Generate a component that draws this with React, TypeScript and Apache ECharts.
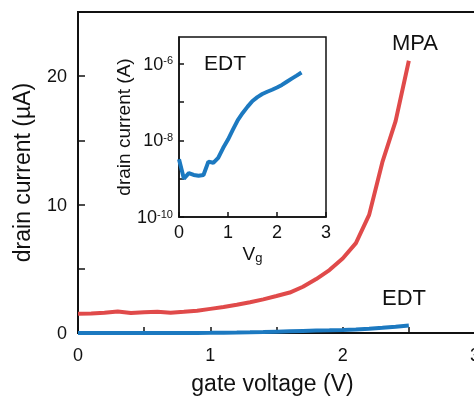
import React, { useEffect, useRef } from "react";
import * as echarts from "echarts";

const gateVoltage = [0, 0.1, 0.2, 0.3, 0.4, 0.5, 0.6, 0.7, 0.8, 0.9, 1.0, 1.1, 1.2, 1.3, 1.4, 1.5, 1.6, 1.7, 1.8, 1.9, 2.0, 2.1, 2.2, 2.3, 2.4, 2.5];
// MPA drain current in µA
const mpaCurrent = [1.5, 1.52, 1.58, 1.68, 1.55, 1.62, 1.66, 1.58, 1.65, 1.74, 1.88, 2.02, 2.2, 2.4, 2.62, 2.88, 3.15, 3.6, 4.2, 4.9, 5.8, 7.0, 9.2, 13.3, 16.5, 21.2];
// EDT drain current in A
const edtCurrent = [3.2e-9, 1.0e-9, 1.4e-9, 1.25e-9, 1.2e-9, 1.25e-9, 2.8e-9, 2.6e-9, 3.5e-9, 6.3e-9, 1.05e-8, 1.9e-8, 3.4e-8, 5.2e-8, 7.6e-8, 1.07e-7, 1.35e-7, 1.62e-7, 1.86e-7, 2.1e-7, 2.4e-7, 2.8e-7, 3.4e-7, 4.1e-7, 4.9e-7, 5.9e-7];

const mainXTicks = [0, 1, 2, 3];
const mainYTicks = [0, 10, 20];
const insetYLabels = [-10, -8, -6];

const FONT = "'Liberation Sans', Arial, sans-serif";
const RED = "#e04a4a";
const BLUE = "#1c79c0";
const INK = "#111";

export default function App() {
  const ref = useRef<HTMLDivElement>(null);
  useEffect(() => {
    if (!ref.current) return;
    const chart = echarts.init(ref.current, null, { renderer: "svg" });
    const mpaData = gateVoltage.map((v, i) => [v, mpaCurrent[i]]);
    const edtMainData = gateVoltage.map((v, i) => [v, edtCurrent[i] * 1e6]);
    const edtInsetData = gateVoltage.map((v, i) => [v, edtCurrent[i]]);

    chart.setOption({
      animation: false,
      textStyle: { fontFamily: FONT, color: INK },
      grid: [
        { left: 78, top: 12, width: 397, height: 321, show: true, borderColor: INK, borderWidth: 2, backgroundColor: "transparent", containLabel: false, outerBoundsMode: "none" },
        { left: 179, top: 37, width: 147, height: 180, show: true, borderColor: INK, borderWidth: 1.5, backgroundColor: "transparent", containLabel: false, outerBoundsMode: "none" },
      ],
      xAxis: [
        {
          gridIndex: 0, type: "value", min: 0, max: 3, interval: 0.5,
          name: "gate voltage (V)", nameLocation: "middle", nameGap: 38,
          nameTextStyle: { fontSize: 23, color: INK, fontFamily: FONT, padding: [0, 8, 0, 0] },
          axisLine: { show: true, lineStyle: { color: INK, width: 2 } },
          axisTick: { show: true, inside: true, length: 6, lineStyle: { color: INK, width: 1.5 } },
          axisLabel: {
            fontSize: 18, color: INK, fontFamily: FONT, margin: 13,
            formatter: (v: number) => (mainXTicks.includes(v) ? String(v) : ""),
          },
          splitLine: { show: false },
        },
        {
          gridIndex: 1, type: "value", min: 0, max: 3, interval: 1,
          name: "{v|V}{g|g}", nameLocation: "middle", nameGap: 26,
          nameTextStyle: {
            fontSize: 19, color: INK, fontFamily: FONT,
            rich: { v: { fontSize: 19, fontFamily: FONT, color: INK }, g: { fontSize: 13, fontFamily: FONT, color: INK, verticalAlign: "bottom", padding: [8, 0, 0, 0] } },
          },
          axisLine: { show: true, lineStyle: { color: INK, width: 1.5 } },
          axisTick: { show: true, inside: true, length: 5, lineStyle: { color: INK, width: 1.5 } },
          axisLabel: { fontSize: 18, color: INK, fontFamily: FONT, margin: 6 },
          splitLine: { show: false },
        },
      ],
      yAxis: [
        {
          gridIndex: 0, type: "value", min: 0, max: 25, interval: 5,
          name: "drain current (µA)", nameLocation: "middle", nameGap: 45,
          nameTextStyle: { fontSize: 23, color: INK, fontFamily: FONT },
          axisLine: { show: true, lineStyle: { color: INK, width: 2 } },
          axisTick: { show: true, inside: true, length: 7, lineStyle: { color: INK, width: 1.5 } },
          axisLabel: {
            fontSize: 18, color: INK, fontFamily: FONT, margin: 11,
            formatter: (v: number) => (mainYTicks.includes(v) ? String(v) : ""),
          },
          splitLine: { show: false },
        },
        {
          gridIndex: 1, type: "log", logBase: 10, min: 1e-10, max: 5e-6,
          name: "drain current (A)", nameLocation: "middle", nameGap: 46,
          nameTextStyle: { fontSize: 19, color: INK, fontFamily: FONT },
          axisLine: { show: true, lineStyle: { color: INK, width: 1.5 } },
          axisTick: { show: true, inside: true, length: 5, lineStyle: { color: INK, width: 1.5 } },
          axisLabel: {
            color: INK, fontFamily: FONT, margin: 6, showMaxLabel: false,
            formatter: (v: number) => {
              const e = Math.log10(v);
              const r = Math.round(e);
              if (Math.abs(e - r) > 1e-6) return "";
              return insetYLabels.includes(r) ? `{b|10}{s|${r}}` : "";
            },
            rich: {
              b: { fontSize: 18, fontFamily: FONT, color: INK },
              s: { fontSize: 11, fontFamily: FONT, color: INK, verticalAlign: "top" },
            },
          },
          splitLine: { show: false },
        },
      ],
      series: [
        {
          type: "line", xAxisIndex: 0, yAxisIndex: 0, data: mpaData, showSymbol: false,
          lineStyle: { color: RED, width: 4 }, itemStyle: { color: RED }, z: 3,
        },
        {
          type: "line", xAxisIndex: 0, yAxisIndex: 0, data: edtMainData, showSymbol: false,
          lineStyle: { color: BLUE, width: 4 }, itemStyle: { color: BLUE }, z: 4,
        },
        {
          type: "line", xAxisIndex: 1, yAxisIndex: 1, data: edtInsetData, showSymbol: false,
          lineStyle: { color: BLUE, width: 4 }, itemStyle: { color: BLUE }, z: 4,
        },
      ],
      graphic: [
        { type: "text", left: 392, top: 31, style: { text: "MPA", fontSize: 22, fontFamily: FONT, fill: INK } },
        { type: "text", left: 382, top: 286, style: { text: "EDT", fontSize: 22, fontFamily: FONT, fill: INK } },
        { type: "text", left: 204, top: 52, style: { text: "EDT", fontSize: 21, fontFamily: FONT, fill: INK } },
      ],
    });
    return () => chart.dispose();
  }, []);
  return <div ref={ref} style={{ position: "fixed", left: 0, top: 0, width: 474, height: 399 }} />;
}
